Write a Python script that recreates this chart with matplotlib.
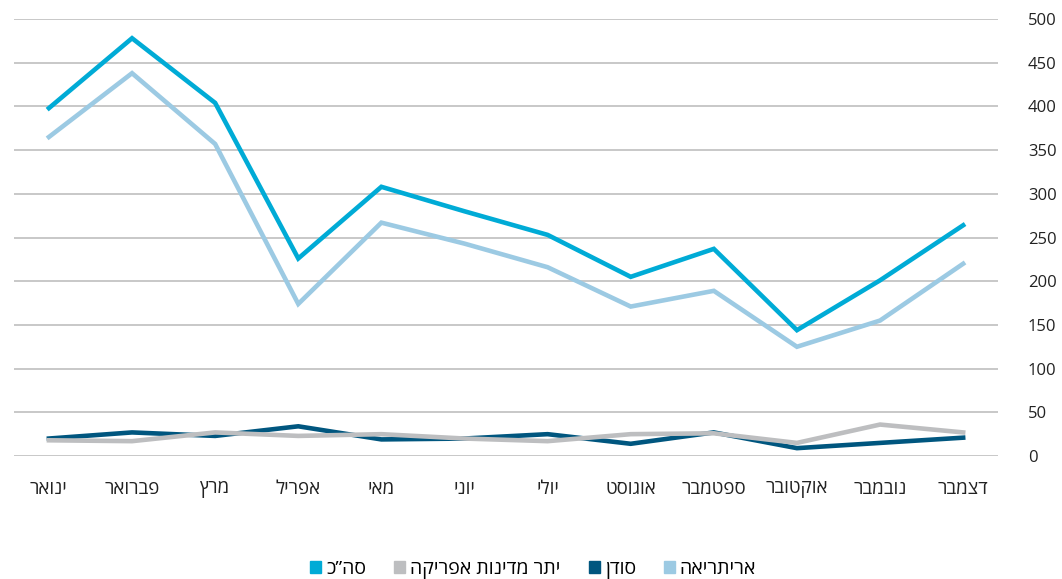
import numpy as np
import matplotlib
matplotlib.use("Agg")
import matplotlib.pyplot as plt
from matplotlib.patches import Patch

plt.rcParams['font.family'] = ['Open Sans', 'DejaVu Sans']

# חודשים
months = ["ינואר", "פברואר", "מרץ", "אפריל", "מאי", "יוני",
          "יולי", "אוגוסט", "ספטמבר", "אוקטובר", "נובמבר", "דצמבר"]

total = [398, 478, 404, 226, 308, 280, 253, 205, 237, 144, 201, 264]
eritrea = [365, 438, 357, 174, 267, 243, 216, 171, 189, 125, 155, 220]
sudan = [20, 27, 23, 34, 19, 20, 25, 14, 27, 9, 15, 21]
other_africa = [18, 17, 27, 23, 25, 20, 17, 25, 26, 15, 36, 27]

yticks = [0, 50, 100, 150, 200, 250, 300, 350, 400, 450, 500]

c_total = "#00ABD6"
c_eritrea = "#9CCAE3"
c_sudan = "#00567F"
c_other = "#BDBEC0"


def rtl(s):
    # matplotlib לא מטפל בכיווניות, לכן הופכים את המחרוזת
    return s[::-1]


fig = plt.figure(figsize=(10.62, 5.79), dpi=100)
ax = fig.add_axes([0.0132, 0.2124, 0.9266, 0.7548])

x = np.arange(len(months))
lw = 3.3
ax.plot(x, eritrea, color=c_eritrea, lw=lw, solid_joinstyle="miter", zorder=3)
ax.plot(x, sudan, color=c_sudan, lw=lw, solid_joinstyle="miter", zorder=3)
ax.plot(x, other_africa, color=c_other, lw=lw, solid_joinstyle="miter", zorder=4)
ax.plot(x, total, color=c_total, lw=lw, solid_joinstyle="miter", zorder=5)

ax.set_xlim(-0.42, 11.42)
ax.set_ylim(0, 500)
ax.set_yticks(yticks)
ax.yaxis.tick_right()
ax.grid(axis="y", color="#BFBFBF", lw=1.2, zorder=0)
ax.set_axisbelow(True)
for sp in ax.spines.values():
    sp.set_visible(False)

ax.set_xticks(x)
ax.set_xticklabels([rtl(m) for m in months], fontsize=13.5, color="#222222")
ax.tick_params(axis="x", length=0, pad=17)
ax.tick_params(axis="y", length=0, pad=21.5, labelsize=12, labelcolor="#222222")

handles = [
    Patch(color=c_total, label=rtl("סה”כ")),
    Patch(color=c_other, label=rtl("יתר מדינות אפריקה")),
    Patch(color=c_sudan, label=rtl("סודן")),
    Patch(color=c_eritrea, label=rtl("אריתריאה")),
]
fig.legend(handles=handles, loc="center", bbox_to_anchor=(0.502, 0.017),
           ncol=4, frameon=False, fontsize=14, handlelength=0.57,
           handleheight=0.57, handletextpad=0.25, columnspacing=1.45,
           borderpad=0, borderaxespad=0)

fig.savefig("out.png", dpi=100)
